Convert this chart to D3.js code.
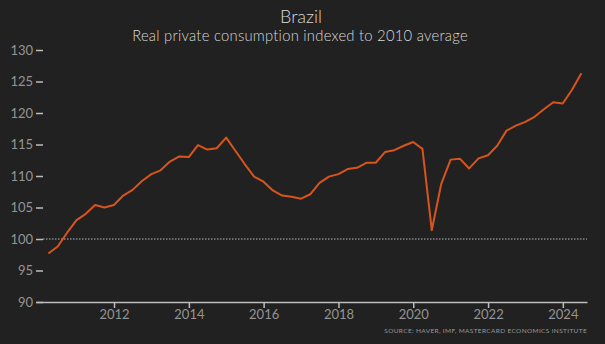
<!DOCTYPE html>
<html><head><meta charset="utf-8">
<script src="https://cdn.jsdelivr.net/npm/d3@7"></script>
<style>
html,body{margin:0;padding:0;background:#212121;}
svg{display:block;}
</style></head>
<body>
<svg id="chart" width="605" height="344"></svg>
<script>
// Quarterly data, 2010Q1 .. 2024Q2 (quarter-end dates)
const years = [2010,2011,2012,2013,2014,2015,2016,2017,2018,2019,2020,2021,2022,2023,2024];
const values = [
  97.7, 98.8, 101.0, 103.0,
  104.0, 105.4, 105.0, 105.4,
  106.9, 107.8, 109.2, 110.3,
  110.9, 112.3, 113.1, 113.0,
  114.9, 114.2, 114.4, 116.1,
  114.0, 111.9, 109.9, 109.1,
  107.7, 106.9, 106.7, 106.4,
  107.1, 108.9, 109.9, 110.3,
  111.1, 111.3, 112.1, 112.1,
  113.8, 114.1, 114.8, 115.4,
  114.3, 101.4, 108.7, 112.6,
  112.75, 111.2, 112.8, 113.3,
  114.8, 117.2, 118.0, 118.6,
  119.4, 120.6, 121.7, 121.5,
  123.7, 126.3
];
const yTicks = [90, 95, 100, 105, 110, 115, 120, 125, 130];
const xTickYears = [2012, 2014, 2016, 2018, 2020, 2022, 2024];
const baseline = 100;
const title = "Brazil";
const subtitle = "Real private consumption indexed to 2010 average";
const source = "SOURCE: HAVER, IMF, MASTERCARD ECONOMICS INSTITUTE";

const data = values.map((v, i) => {
  const yr = years[0] + Math.floor(i / 4);
  const q = i % 4;
  return { date: new Date(yr, q * 3 + 3, 0), value: v };
});

const svg = d3.select("#chart");
const W = 605, H = 344;
const mLeft = 36, mRight = 587, mTop = 50, mBottom = 302;

const x = d3.scaleTime()
  .domain([new Date(2009, 10, 30), new Date(2024, 7, 24)])
  .range([mLeft, mRight]);
const y = d3.scaleLinear().domain([90, 130]).range([mBottom, mTop]);

const font = "Lato, 'DejaVu Sans', sans-serif";

svg.append("rect").attr("width", W).attr("height", H).attr("fill", "#212121");

// Title
svg.append("text").attr("x", 301).attr("y", 22.5).attr("text-anchor", "middle")
  .attr("fill", "#d8d8d8").attr("font-family", font).attr("font-weight", 300)
  .attr("font-size", 18).text(title);
svg.append("text").attr("x", 300).attr("y", 41).attr("text-anchor", "middle")
  .attr("fill", "#d8d8d8").attr("font-family", font).attr("font-weight", 300)
  .attr("font-size", 14.8).attr("letter-spacing", 0.25).text(subtitle);

// Y axis
const yAxis = svg.append("g").attr("transform", `translate(${mLeft + 7},0)`)
  .call(d3.axisLeft(y).tickValues(yTicks).tickSize(7).tickPadding(3));
yAxis.select(".domain").remove();
yAxis.selectAll(".tick line").attr("stroke", "#bdbdbd").attr("stroke-width", 1.5);
yAxis.selectAll(".tick text").attr("fill", "#949494").attr("font-family", font).attr("font-size", 13);

// Baseline dotted
svg.append("line").attr("x1", mLeft + 7).attr("x2", mRight)
  .attr("y1", y(baseline)).attr("y2", y(baseline))
  .attr("stroke", "#bdbdbd").attr("stroke-width", 1).attr("stroke-dasharray", "1.5,1.5");

// X axis
const xAxis = svg.append("g").attr("transform", `translate(0,${mBottom})`)
  .call(d3.axisBottom(x).tickValues(xTickYears.map(d => new Date(d, 0, 1)))
    .tickFormat(d3.timeFormat("%Y")).tickSize(6).tickSizeOuter(0).tickPadding(2));
xAxis.select(".domain").attr("stroke", "#bdbdbd").attr("stroke-width", 1.5);
xAxis.selectAll(".tick line").attr("stroke", "#bdbdbd").attr("stroke-width", 1.5);
xAxis.selectAll(".tick text").attr("fill", "#949494").attr("font-family", font).attr("font-size", 13);

// Line
svg.append("path").datum(data)
  .attr("fill", "none").attr("stroke", "#d9541c").attr("stroke-width", 2)
  .attr("stroke-linejoin", "round")
  .attr("d", d3.line().x(d => x(d.date)).y(d => y(d.value)));

// Source
svg.append("text").attr("x", 587).attr("y", 333).attr("text-anchor", "end")
  .attr("fill", "#9a9a9a").attr("font-family", font).attr("font-size", 6.5)
  .attr("letter-spacing", 0.35).text(source);
</script>
</body></html>
